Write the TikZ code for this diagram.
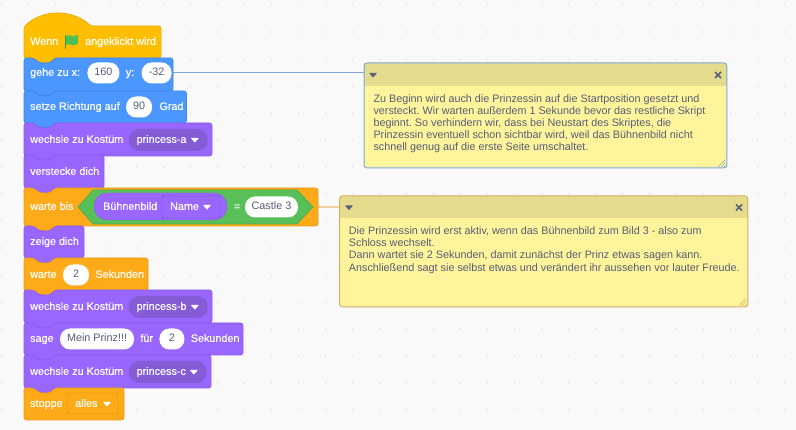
\documentclass[tikz,border=0pt]{standalone}
\usepackage{fontspec}
\setmainfont{Liberation Sans}
\newfontfamily\blockfont[FakeBold=0.3]{Liberation Sans}
\usetikzlibrary{positioning}

\definecolor{eventfill}{HTML}{FFBF00}
\definecolor{eventedge}{HTML}{E6AC00}
\definecolor{motionfill}{HTML}{4C97FF}
\definecolor{motionedge}{HTML}{3F84E5}
\definecolor{looksfill}{HTML}{9966FF}
\definecolor{looksedge}{HTML}{8A5CE6}
\definecolor{looksdark}{HTML}{855CD6}
\definecolor{looksrim}{HTML}{774DCB}
\definecolor{controlfill}{HTML}{FFAB19}
\definecolor{controledge}{HTML}{E89C17}
\definecolor{controlrim}{HTML}{CF8B17}
\definecolor{opfill}{HTML}{59C059}
\definecolor{opedge}{HTML}{4CAD4C}
\definecolor{flagfill}{HTML}{4CBF56}
\definecolor{flagedge}{HTML}{45993D}
\definecolor{inktext}{HTML}{575E75}
\definecolor{notefill}{HTML}{FEF49C}
\definecolor{notehead}{HTML}{E4DB8C}
\definecolor{notelineA}{HTML}{7FA6DC}
\definecolor{notelineB}{HTML}{D4AF62}
\definecolor{linkA}{HTML}{7FA6DC}
\definecolor{linkB}{HTML}{F0CFA0}
\definecolor{gridback}{HTML}{F9F9F9}
\definecolor{griddot}{HTML}{E2E2E2}

% one stack block: top, bottom, right edge, fill, edge
\newcommand{\stackblock}[5]{
	\draw[#5, fill=#4, rounded corners=2.5pt, line width=0.7pt] (24,#1) -- (33,#1) -- (40,#1+5) -- (50,#1+5) -- (55,#1) -- (#3,#1)
	-- (#3,#2) -- (55,#2) -- (50,#2+5) -- (40,#2+5) -- (33,#2) -- (24,#2) -- cycle;
}

\tikzset{
	blocktext/.style={text=white, inner sep=0pt, font=\blockfont\fontsize{10.8}{13}\selectfont, text height=8pt, text depth=2.2pt},
	pill/.style={fill=white, rounded corners=10pt, minimum height=21pt, inner sep=0pt, text=inktext, font=\fontsize{10.8}{13}\selectfont, text height=8pt, text depth=2.2pt},
	dropdown/.style={fill=looksdark, rounded corners=10.5pt, minimum height=22pt, inner sep=0pt, text=white, align=left, font=\blockfont\fontsize{10.8}{13}\selectfont, text height=8pt, text depth=2.2pt},
	notetext/.style={anchor=north west, inner sep=0pt, align=left, text=inktext, font=\frenchspacing\fontsize{10.8}{12.2}\selectfont},
	notebox/.style={anchor=north west, fill=notefill, rounded corners=3pt, inner sep=0pt},
	droptip/.pic={\fill[#1, rounded corners=0.4pt] (-4,-2) -- (4,-2) -- (0,2.6) -- cycle;},
	noteclose/.pic={\draw[inktext, line width=1.7pt] (-3,-3) -- (3,3) (-3,3) -- (3,-3);},
	notegrip/.pic={\draw[#1, line width=0.5pt] (-7,0) -- (0,-7) (-4,0) -- (0,-4) (-1,0) -- (0,-1);}
}

\begin{document}
\begin{tikzpicture}[x=1pt, y=-1pt]

	\useasboundingbox (0,0) rectangle (796,430);
	\fill[gridback] (0,0) rectangle (796,430);
	\foreach \i in {0,...,29}
		\foreach \j in {0,...,15}
			\fill[griddot] (1.5+27*\i,5+27*\j) circle[radius=0.9];

	% Links from the blocks to the notes
	\coordinate (pingehe) at (170,73);
	\coordinate (pinwarte) at (315,207);
	\coordinate (pinnotea) at (366,73);
	\coordinate (pinnoteb) at (342,207);
	\draw[linkA, line width=1pt] (pingehe) -- (pinnotea);
	\draw[linkB, line width=1.4pt] (pinwarte) -- (pinnoteb);

	% Hat block
	\draw[eventedge, fill=eventfill, rounded corners=2.5pt, line width=0.7pt] (24,27) .. controls (42,9) and (72,9) .. (91,26) -- (161,26)
	-- (161,58) -- (55,58) -- (50,63) -- (40,63) -- (33,58) -- (24,58) -- cycle;
	\node[blocktext, anchor=west] (wenn) at (30,42) {Wenn};
	\node[blocktext, anchor=west] (angeklickt) at (85,42) {angeklickt wird};
	\fill[flagfill] (66,36) .. controls (69,33.5) and (73,38) .. (78,35) -- (78,44) .. controls (73,47) and (69,42.5) .. (66,45) -- cycle;
	\draw[flagedge, line width=1.2pt] (65.5,35) -- (65.5,49);

	% Motion
	\stackblock{58}{91}{173}{motionfill}{motionedge}
	\node[blocktext, anchor=west] (gehe) at (30,73) {gehe zu x:};
	\node[pill, minimum width=32pt, right=7pt of gehe] (gehex) {160};
	\node[blocktext, right=6pt of gehex] (gehey) {y:};
	\node[pill, minimum width=30pt, right=7pt of gehey] (geheyval) {-32};

	\stackblock{91}{123}{186.5}{motionfill}{motionedge}
	\node[blocktext, anchor=west] (setze) at (30,107) {setze Richtung auf};
	\node[pill, minimum width=26pt, right=6pt of setze] (setzeval) {90};
	\node[blocktext, right=7pt of setzeval] (grad) {Grad};

	% Looks
	\stackblock{123}{156}{212}{looksfill}{looksedge}
	\node[blocktext, anchor=west] (kostuma) at (30,140) {wechsle zu Kostüm};
	\node[dropdown, minimum width=79pt, text width=63pt, right=5pt of kostuma] (dropa) {princess-a};
	\pic at ([xshift=-13pt]dropa.east) {droptip=white};

	\stackblock{155}{188}{104}{looksfill}{looksedge}
	\node[blocktext, anchor=west] (verstecke) at (30,172) {verstecke dich};

	% Wait until with the stage test
	\stackblock{188}{226}{318}{controlfill}{controledge}
	\node[blocktext, anchor=west] (wartebis) at (30,207) {warte bis};
	\draw[opedge, fill=opfill, line width=0.7pt] (78,207) -- (93,190) -- (297,190) -- (313,207) -- (297,224) -- (93,224) -- cycle;
	\node[fill=looksfill, draw=looksedge, rounded corners=13pt, minimum width=133pt, minimum height=27pt, inner sep=0pt] (buehne) at (160.5,206.5) {};
	\node[blocktext, anchor=west] (buehnetext) at (103,207) {Bühnenbild};
	\node[draw=looksrim, rounded corners=2pt, minimum width=58pt, minimum height=22pt, inner sep=0pt] (namebox) at (191,207) {};
	\node[blocktext, anchor=west] (nametext) at (170,207) {Name};
	\pic at (207,207) {droptip=white};
	\node[blocktext] (gleich) at (237,207) {=};
	\node[pill, minimum width=53pt] (castle) at (271.5,207) {Castle 3};

	\stackblock{226}{258}{84}{looksfill}{looksedge}
	\node[blocktext, anchor=west] (zeige) at (30,242) {zeige dich};

	\stackblock{258}{291}{148}{controlfill}{controledge}
	\node[blocktext, anchor=west] (warte) at (30,275) {warte};
	\node[pill, minimum width=26pt, right=6pt of warte] (warteval) {2};
	\node[blocktext, right=6pt of warteval] (wartesek) {Sekunden};

	\stackblock{290}{323}{212}{looksfill}{looksedge}
	\node[blocktext, anchor=west] (kostumb) at (30,307) {wechsle zu Kostüm};
	\node[dropdown, minimum width=79pt, text width=63pt, right=5pt of kostumb] (dropb) {princess-b};
	\pic at ([xshift=-13pt]dropb.east) {droptip=white};

	\stackblock{323}{355}{243}{looksfill}{looksedge}
	\node[blocktext, anchor=west] (sage) at (30,339) {sage};
	\node[pill, minimum width=74pt, right=6pt of sage] (sagetext) {Mein Prinz!!!};
	\node[blocktext, right=6pt of sagetext] (fuer) {für};
	\node[pill, minimum width=25pt, right=6pt of fuer] (sageval) {2};
	\node[blocktext, right=6pt of sageval] (sagesek) {Sekunden};

	\stackblock{355}{388}{211}{looksfill}{looksedge}
	\node[blocktext, anchor=west] (kostumc) at (30,372) {wechsle zu Kostüm};
	\node[dropdown, minimum width=78pt, text width=62pt, right=5pt of kostumc] (dropc) {princess-c};
	\pic at ([xshift=-13pt]dropc.east) {droptip=white};

	% Stop
	\draw[controledge, fill=controlfill, rounded corners=2.5pt, line width=0.7pt] (24,388) -- (33,388) -- (40,393) -- (50,393) -- (55,388) -- (124,388) -- (124,420) -- (24,420) -- cycle;
	\node[blocktext, anchor=west] (stoppe) at (30,404) {stoppe};
	\node[draw=controlrim, rounded corners=2pt, minimum width=51pt, minimum height=21pt, inner sep=0pt] (dropstop) at (92.5,403.5) {};
	\node[blocktext, anchor=west] (alles) at (75,404) {alles};
	\pic at (107,404) {droptip=white};

	% Note on the start position
	\node[notebox, minimum width=362.5pt, minimum height=104.5pt] (notea) at (364,63) {};
	\fill[notehead] ([yshift=-23pt]notea.north west) [rounded corners=3pt] -- (notea.north west) -- (notea.north east) [sharp corners] -- ([yshift=-23pt]notea.north east) -- cycle;
	\draw[notelineA, line width=1pt, rounded corners=3pt] (notea.north west) rectangle (notea.south east);
	\pic at (373,75) {droptip=inktext};
	\pic at (718,75) {noteclose};
	\pic at (725,167) {notegrip=notelineA};
	\node[notetext] (noteatext) at (373.3,94) {Zu Beginn wird auch die Prinzessin auf die Startposition gesetzt und\\versteckt. Wir warten außerdem 1 Sekunde bevor das restliche Skript\\beginnt. So verhindern wir, dass bei Neustart des Skriptes, die\\Prinzessin eventuell schon sichtbar wird, weil das Bühnenbild nicht\\schnell genug auf die erste Seite umschaltet.};

	% Note on the castle
	\node[notebox, minimum width=408pt, minimum height=110.5pt] (noteb) at (339.5,196) {};
	\fill[notehead] ([yshift=-22pt]noteb.north west) [rounded corners=3pt] -- (noteb.north west) -- (noteb.north east) [sharp corners] -- ([yshift=-22pt]noteb.north east) -- cycle;
	\draw[notelineB, line width=1pt, rounded corners=3pt] (noteb.north west) rectangle (noteb.south east);
	\pic at (349,207.5) {droptip=inktext};
	\pic at (739,207.5) {noteclose};
	\pic at (746,305.5) {notegrip=notelineB};
	\node[notetext] (notebtext) at (348.7,226.5) {Die Prinzessin wird erst aktiv, wenn das Bühnenbild zum Bild 3 - also zum\\Schloss wechselt.\\Dann wartet sie 2 Sekunden, damit zunächst der Prinz etwas sagen kann.\\Anschließend sagt sie selbst etwas und verändert ihr aussehen vor lauter Freude.};

\end{tikzpicture}
\end{document}
